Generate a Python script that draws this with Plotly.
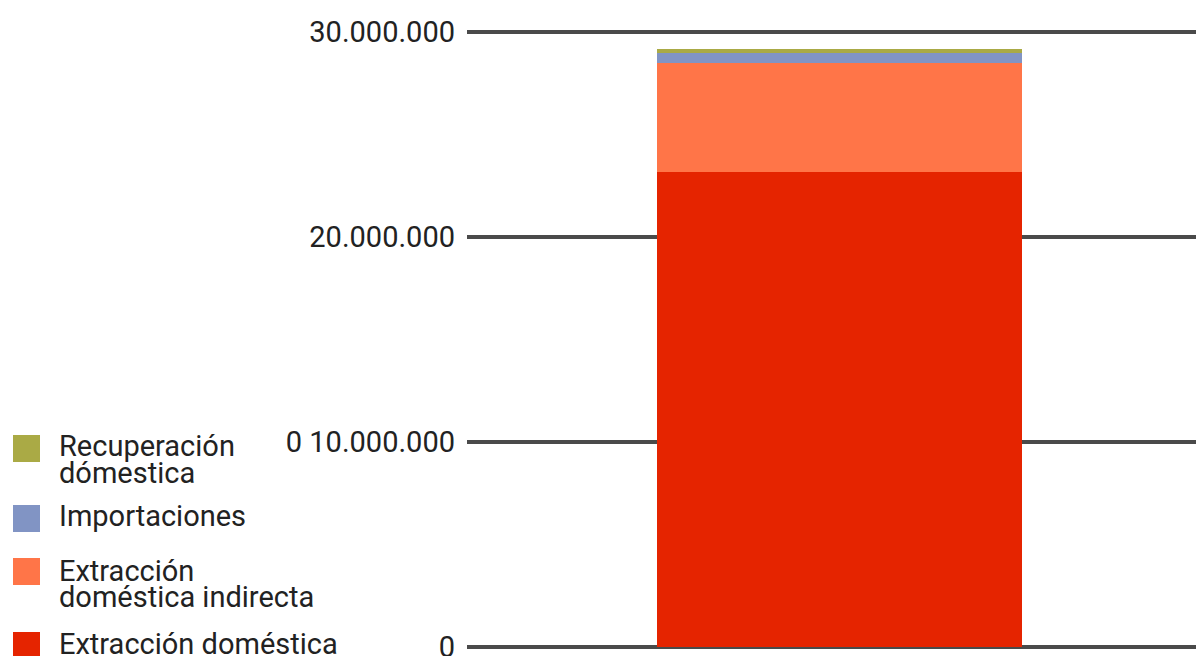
import plotly.graph_objects as go

# Material flow components (tonnes), stacked bottom to top
categories = ["Total"]
extraccion_domestica = [23_170_000]
extraccion_indirecta = [5_320_000]
importaciones = [490_000]
recuperacion_domestica = [195_000]

series_names = [
    "Extracción doméstica",
    "Extracción doméstica indirecta",
    "Importaciones",
    "Recuperación dómestica",
]
series_values = [extraccion_domestica, extraccion_indirecta, importaciones, recuperacion_domestica]
series_colors = ["#e52400", "#ff7548", "#8194c4", "#aaaa45"]

tick_values = [0, 10_000_000, 20_000_000, 30_000_000]
tick_labels = ["0", "0 10.000.000", "20.000.000", "30.000.000"]

# Legend rows (top to bottom): colour, text lines
legend_rows = [
    ("#aaaa45", ["Recuperación", "dómestica"]),
    ("#8194c4", ["Importaciones"]),
    ("#ff7548", ["Extracción", "doméstica indirecta"]),
    ("#e52400", ["Extracción doméstica"]),
]

W, H = 1196, 656
ML, MR, MT, MB = 467, 0, 20, 0
PW, PH = W - ML - MR, H - MT - MB
FONT = "Roboto"
FS = 29


def px_x(x):
    return (x - ML) / PW


def px_y(y):
    return (H - MB - y) / PH


fig = go.Figure()
for name, vals, col in zip(series_names, series_values, series_colors):
    fig.add_trace(go.Bar(
        x=[0], y=vals, name=name, marker=dict(color=col, line=dict(width=0)),
        width=1, showlegend=False, hoverinfo="y+name",
    ))

# Hand-built legend on the left
square_tops = [435, 505, 558, 632]
line_centers = [[446, 473], [516], [571, 597], [644]]
shapes = []
annotations = []
for (col, lines), top, centers in zip(legend_rows, square_tops, line_centers):
    shapes.append(dict(
        type="rect", xref="paper", yref="paper",
        x0=px_x(13), x1=px_x(40), y0=px_y(top + 27), y1=px_y(top),
        fillcolor=col, line=dict(width=0), layer="above",
    ))
    for txt, cy in zip(lines, centers):
        annotations.append(dict(
            text=txt, xref="paper", yref="paper", x=px_x(57), y=px_y(cy),
            xanchor="left", yanchor="middle", showarrow=False,
            font=dict(family=FONT, size=FS, color="#222222"),
        ))

fig.update_layout(
    width=W, height=H,
    margin=dict(l=ML, r=MR, t=MT, b=MB, pad=0, autoexpand=False),
    paper_bgcolor="white", plot_bgcolor="white",
    barmode="stack",
    bargap=0,
    font=dict(family=FONT, size=FS, color="#222222"),
    shapes=shapes,
    annotations=annotations,
    showlegend=False,
)
fig.update_xaxes(
    range=[-1.0205, 0.9767], showgrid=False, zeroline=False,
    showticklabels=False, ticks="", showline=False, automargin=False,
)
fig.update_yaxes(
    range=[-439_000, 30_585_000],
    tickvals=tick_values, ticktext=tick_labels,
    showgrid=True, gridcolor="#4a4a4a", gridwidth=3.5,
    zeroline=True, zerolinecolor="#4a4a4a", zerolinewidth=3.5,
    ticks="", ticklabelstandoff=11, showline=False,
    ticklabeloverflow="allow", automargin=False,
    tickfont=dict(family=FONT, size=FS, color="#222222"),
)

fig.write_html("out.html")
